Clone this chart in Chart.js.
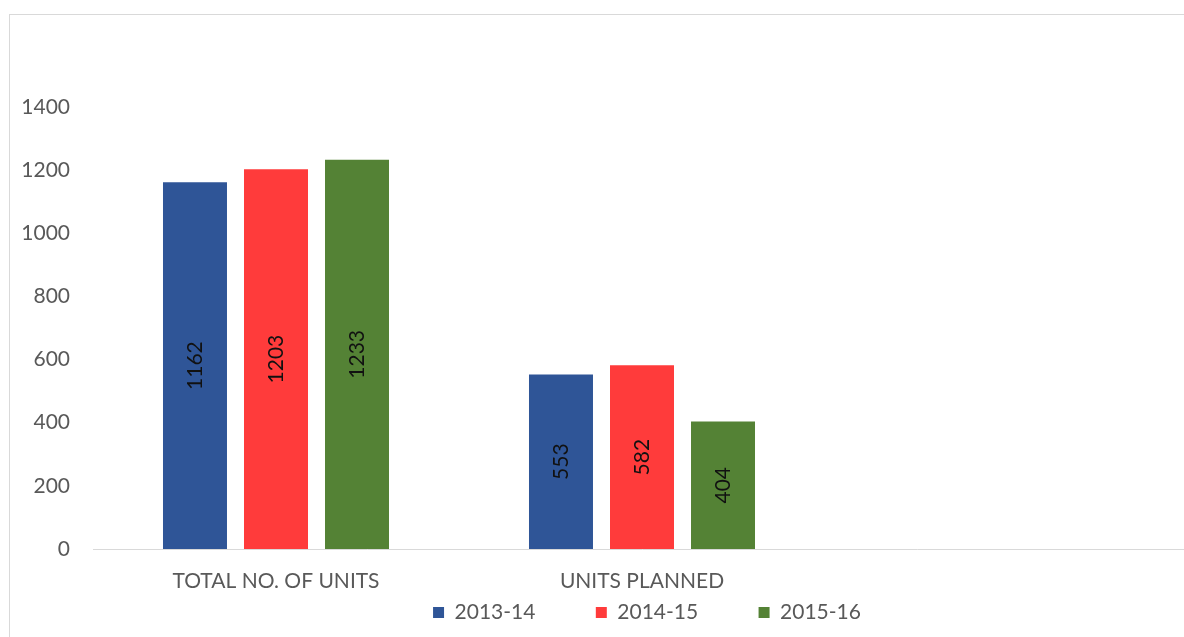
<!DOCTYPE html>
<html>
<head>
<meta charset="utf-8">
<script src="https://cdn.jsdelivr.net/npm/chart.js@4/dist/chart.umd.min.js"></script>
<style>
  html, body { margin: 0; padding: 0; background: #fff; overflow: hidden; }
  #wrap { position: relative; width: 1184px; height: 637px; overflow: hidden; }
  #frame { position: absolute; left: 9px; top: 14px; width: 1300px; height: 700px; border: 1px solid #d9d9d9; pointer-events: none; }
  canvas { position: absolute; left: 0; top: 0; }
</style>
</head>
<body>
<div id="wrap">
  <canvas id="unitsChart" width="1300" height="650"></canvas>
  <div id="frame"></div>
</div>
<script>
const categories = ["TOTAL NO. OF UNITS", "UNITS PLANNED", ""];
const years = ["2013-14", "2014-15", "2015-16"];
const units1314 = [1162, 553, null];
const units1415 = [1203, 582, null];
const units1516 = [1233, 404, null];
const yTicks = [0, 200, 400, 600, 800, 1000, 1200, 1400];

const colors = ["#2f5597", "#ff3b3b", "#548235"];
const fontFamily = "Lato, 'Liberation Sans', sans-serif";
Chart.defaults.font.family = fontFamily;
Chart.defaults.color = "#595959";

// values written upright inside each bar
const barLabels = {
  id: "barLabels",
  afterDatasetsDraw(chart) {
    const ctx = chart.ctx;
    chart.data.datasets.forEach((ds, i) => {
      const meta = chart.getDatasetMeta(i);
      meta.data.forEach((bar, j) => {
        const v = ds.data[j];
        if (v == null) return;
        ctx.save();
        ctx.translate(bar.x, (bar.y + bar.base) / 2);
        ctx.rotate(-Math.PI / 2);
        ctx.font = "21px " + fontFamily;
        ctx.fillStyle = "#111";
        ctx.textAlign = "center";
        ctx.textBaseline = "middle";
        ctx.fillText(String(v), 0, 0);
        ctx.restore();
      });
    });
  }
};

const series = [units1314, units1415, units1516];

new Chart(document.getElementById("unitsChart"), {
  type: "bar",
  data: {
    labels: categories,
    datasets: years.map((y, i) => ({
      label: y,
      data: series[i],
      backgroundColor: colors[i],
      borderWidth: 0,
      categoryPercentage: 0.664,
      barPercentage: 0.79
    }))
  },
  options: {
    responsive: false,
    animation: false,
    layout: { padding: { top: 107, right: 6, bottom: 17, left: 0 } },
    scales: {
      x: {
        grid: { display: false, drawTicks: false },
        border: { display: true, color: "#d9d9d9", width: 1 },
        ticks: { padding: 20, font: { size: 21 }, color: "#595959", maxRotation: 0 },
        afterFit: s => { s.height = 53; }
      },
      y: {
        min: 0,
        max: 1400,
        afterBuildTicks: s => { s.ticks = yTicks.map(v => ({ value: v })); },
        grid: { display: false, drawTicks: false },
        border: { display: false },
        ticks: { padding: 23, font: { size: 21 }, color: "#595959", callback: v => String(v) },
        afterFit: s => { s.width = 93; }
      },
      // empty right-hand space of the chart box
      yRight: {
        position: "right",
        grid: { display: false, drawTicks: false },
        border: { display: false },
        ticks: { display: false },
        afterFit: s => { s.width = 103; }
      }
    },
    plugins: {
      tooltip: { enabled: false },
      legend: {
        position: "bottom",
        labels: {
          boxWidth: 11,
          boxHeight: 11,
          padding: 0,
          font: { size: 21 },
          color: "#595959",
          generateLabels(chart) {
            const items = Chart.defaults.plugins.legend.labels.generateLabels(chart);
            items.forEach((it, i) => {
              it.lineWidth = 0;
              if (i < items.length - 1) it.text = it.text + "\u2003\u2003\u2003\u2002\u2009";
            });
            return items;
          }
        }
      }
    }
  },
  plugins: [barLabels]
});
</script>
</body>
</html>
